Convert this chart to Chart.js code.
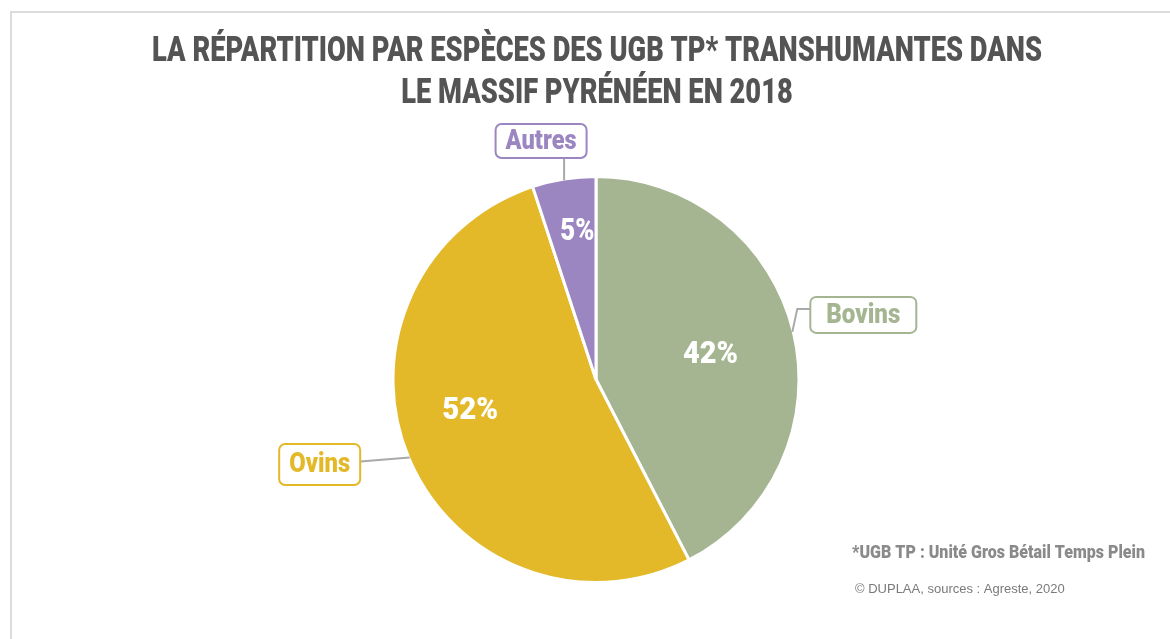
<!DOCTYPE html>
<html>
<head>
<meta charset="utf-8">
<script src="https://cdn.jsdelivr.net/npm/chart.js@4/dist/chart.umd.min.js"></script>
<style>
 html, body { margin: 0; padding: 0; background: #fff; }
 #wrap { position: relative; width: 1170px; height: 639px; }
 #frame { position: absolute; left: 10px; top: 11px; right: 0; bottom: 0; border-left: 2px solid #dcdcdc; border-top: 2px solid #dcdcdc; }
 canvas { position: absolute; left: 0; top: 0; }
</style>
</head>
<body>
<div id="wrap">
 <div id="frame"></div>
 <canvas id="c" width="1170" height="639"></canvas>
</div>
<script>
// data
const categories = ['Bovins', 'Ovins', 'Autres'];
const shares = [42, 52, 5];
const sliceColors = ['#a5b592', '#e3b92a', '#9c86c1'];

const titleLines = ['LA RÉPARTITION PAR ESPÈCES DES UGB TP* TRANSHUMANTES DANS', 'LE MASSIF PYRÉNÉEN EN 2018'];
const footNote = '*UGB TP : Unité Gros Bétail Temps Plein';
const sourceNote = '© DUPLAA, sources : Agreste, 2020';

// where the labels sit (relative to the slice edge at its mid angle)
const pctRadius = [0.58, 0.64, 0.74];
const pctShift = [[0, 4], [-6, -18], [5, 1]];
const pctWidth = [55, 56, 34];
const nameWidth = [74, 61, 71];
const boxes = [
 { dx: 71, dy: -17, w: 106, h: 36, elbow: [5, -23] },
 { dx: -90, dy: 7, w: 81, h: 41, elbow: null },
 { dx: -23, dy: -39, w: 91, h: 34, elbow: null }
];

const condensed = 'Roboto, "DejaVu Sans", sans-serif';
const heavy = '900 ';

// scale factor so that text fits a given width
function fitScale(ctx, text, size, width) {
 ctx.save();
 ctx.font = heavy + size + 'px ' + condensed;
 const w = ctx.measureText(text).width;
 ctx.restore();
 return width / w;
}

// draws text squeezed horizontally (the original uses a condensed font)
function squeezed(ctx, text, x, y, size, sx, align) {
 ctx.save();
 ctx.font = heavy + size + 'px ' + condensed;
 ctx.textBaseline = 'middle';
 ctx.textAlign = 'left';
 const w = ctx.measureText(text).width * sx;
 let left = x;
 if (align == 'center') left = x - w / 2;
 ctx.translate(left, y);
 ctx.scale(sx, 1);
 ctx.fillText(text, 0, 0);
 ctx.restore();
}

function roundBox(ctx, x, y, w, h, r) {
 ctx.beginPath();
 ctx.moveTo(x + r, y);
 ctx.arcTo(x + w, y, x + w, y + h, r);
 ctx.arcTo(x + w, y + h, x, y + h, r);
 ctx.arcTo(x, y + h, x, y, r);
 ctx.arcTo(x, y, x + w, y, r);
 ctx.closePath();
}

const decor = {
 id: 'decor',
 afterDraw(chart) {
  const ctx = chart.ctx;

  // title
  ctx.fillStyle = '#545454';
  const sx = fitScale(ctx, titleLines[0], 35, 890);
  squeezed(ctx, titleLines[0], 597, 52, 35, sx, 'center');
  squeezed(ctx, titleLines[1], 597, 94, 35, sx, 'center');

  const arcs = chart.getDatasetMeta(0).data;
  arcs.forEach((arc, i) => {
   const p = arc.getProps(['x', 'y', 'startAngle', 'endAngle', 'outerRadius'], true);
   const mid = (p.startAngle + p.endAngle) / 2;

   // percent inside the slice
   const r = p.outerRadius * pctRadius[i];
   const pctText = shares[i] + '%';
   ctx.fillStyle = '#ffffff';
   squeezed(ctx, pctText, p.x + Math.cos(mid) * r + pctShift[i][0], p.y + Math.sin(mid) * r + pctShift[i][1],
    31, fitScale(ctx, pctText, 31, pctWidth[i]), 'center');

   // leader line + boxed label
   const ax = p.x + Math.cos(mid) * (p.outerRadius - 1);
   const ay = p.y + Math.sin(mid) * (p.outerRadius - 1);
   const b = boxes[i];
   const cx = ax + b.dx, cy = ay + b.dy;
   const bx = cx - b.w / 2, by = cy - b.h / 2;

   ctx.save();
   ctx.strokeStyle = '#a9a9a9';
   ctx.lineWidth = 2;
   ctx.beginPath();
   ctx.moveTo(ax, ay);
   if (b.elbow) {
    ctx.lineTo(ax + b.elbow[0], ay + b.elbow[1]);
    ctx.lineTo(bx, ay + b.elbow[1]);
   } else if (Math.abs(b.dx) > Math.abs(b.dy)) {
    ctx.lineTo(b.dx < 0 ? bx + b.w : bx, cy - 3);
   } else {
    ctx.lineTo(ax, by + b.h);
   }
   ctx.stroke();

   roundBox(ctx, bx, by, b.w, b.h, 6);
   ctx.fillStyle = '#ffffff';
   ctx.fill();
   ctx.strokeStyle = sliceColors[i];
   ctx.lineWidth = 2;
   ctx.stroke();
   ctx.restore();

   ctx.fillStyle = sliceColors[i];
   squeezed(ctx, categories[i], cx, cy + 1, 27, fitScale(ctx, categories[i], 27, nameWidth[i]), 'center');
  });

  // notes
  ctx.fillStyle = '#8a8a8a';
  squeezed(ctx, footNote, 852, 553, 18, fitScale(ctx, footNote, 18, 293), 'left');
  ctx.save();
  ctx.fillStyle = '#7a7a7a';
  ctx.font = '13px "Liberation Sans", Arial, sans-serif';
  ctx.textBaseline = 'middle';
  ctx.fillText(sourceNote, 855, 589);
  ctx.restore();
 }
};

new Chart(document.getElementById('c'), {
 type: 'pie',
 data: {
  labels: categories,
  datasets: [{
   data: shares,
   backgroundColor: sliceColors,
   borderColor: '#ffffff',
   borderWidth: 3
  }]
 },
 options: {
  responsive: false,
  animation: false,
  layout: { padding: { top: 175, bottom: 55, left: 391, right: 369 } },
  plugins: {
   legend: { display: false },
   title: { display: false },
   tooltip: { enabled: false }
  }
 },
 plugins: [decor]
});
</script>
</body>
</html>
